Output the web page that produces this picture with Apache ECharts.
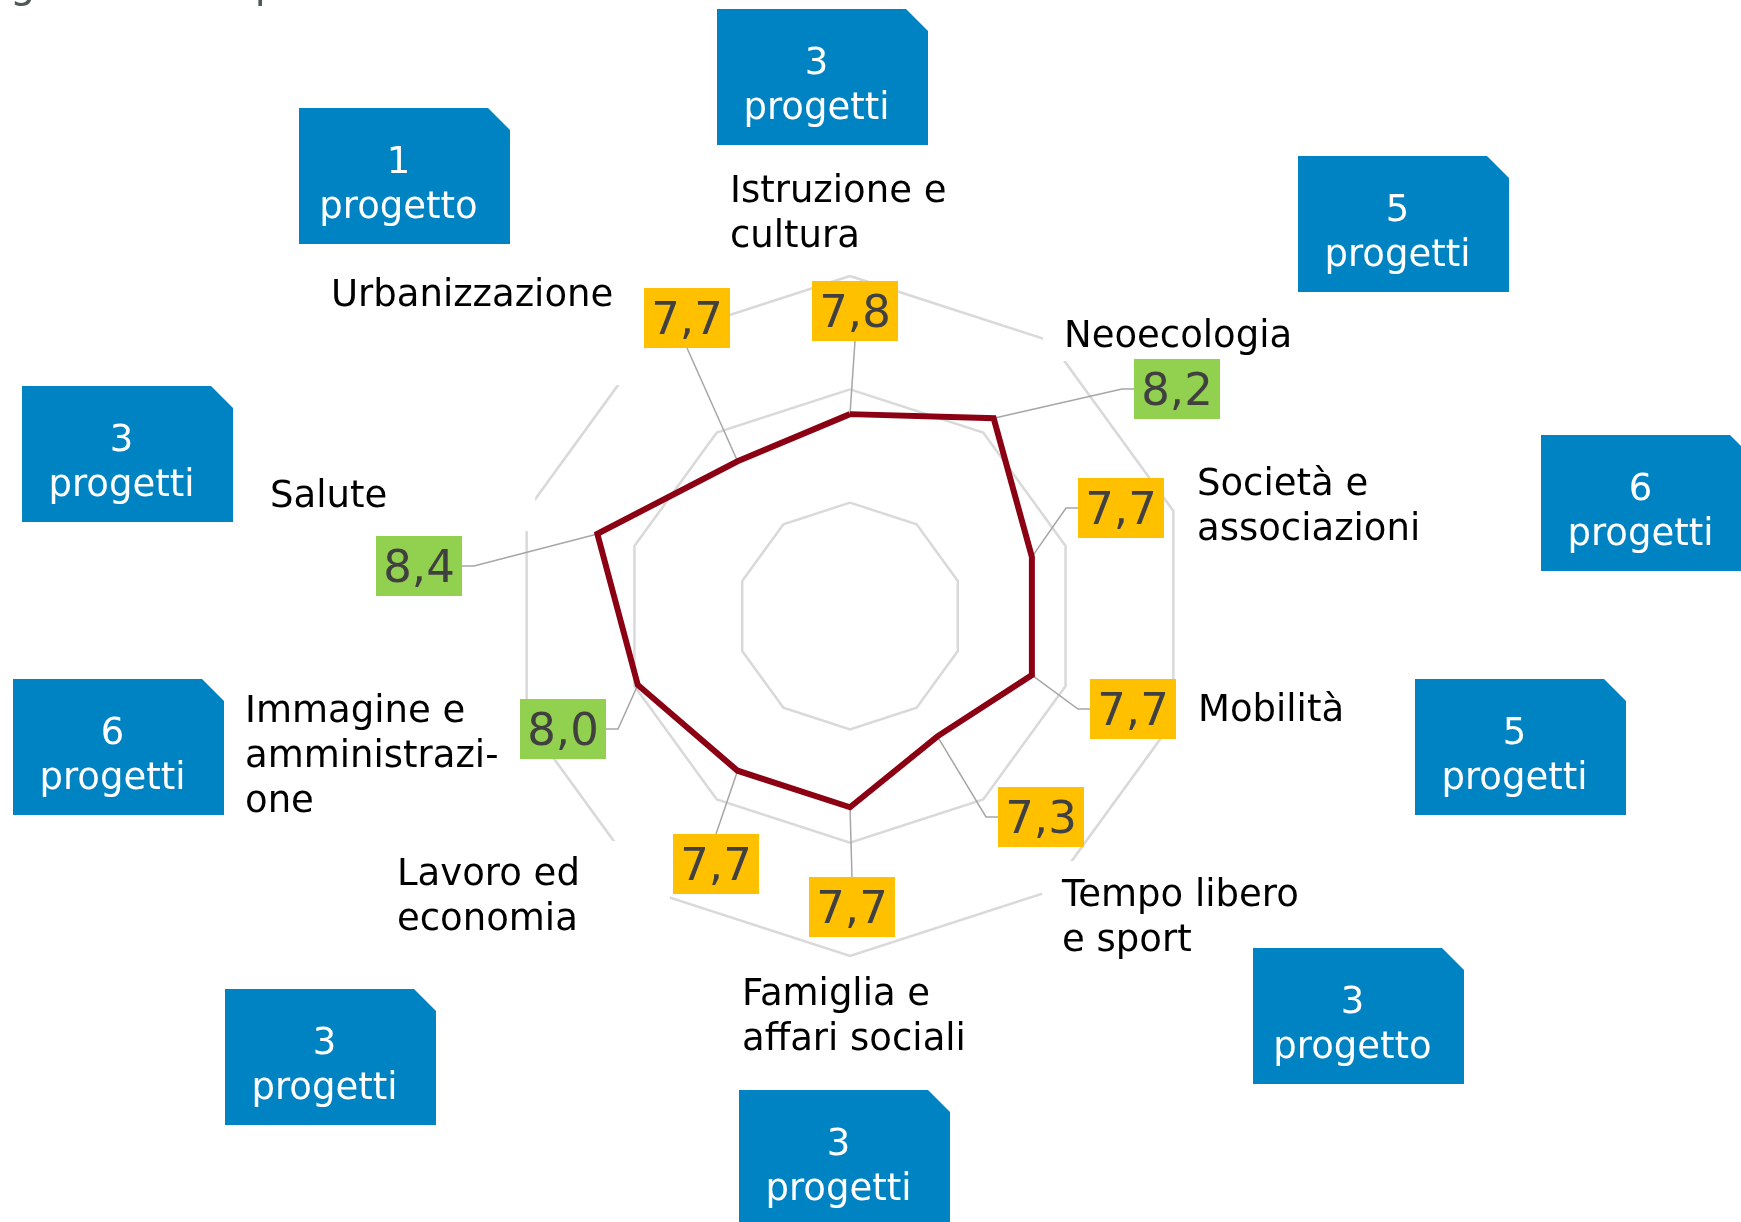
<!DOCTYPE html>
<html><head><meta charset="utf-8">
<script src="https://cdn.jsdelivr.net/npm/echarts@6/dist/echarts.min.js"></script>
<style>html,body{margin:0;padding:0;background:#fff}#c{width:1741px;height:1222px}</style>
</head><body><div id="c"></div>
<script>
// ---------- DATA (indicator order = ECharts radar order: counter-clockwise from the top) ----------
const categories = ['Istruzione e\ncultura', 'Urbanizzazione', 'Salute', 'Immagine e\namministrazi-\none',
  'Lavoro ed\neconomia', 'Famiglia e\naffari sociali', 'Tempo libero\ne sport', 'Mobilità',
  'Società e\nassociazioni', 'Neoecologia'];
const values = [7.8, 7.7, 8.4, 8.0, 7.7, 7.7, 7.3, 7.7, 7.7, 8.2];
const projectCounts = ['3', '1', '3', '6', '3', '3', '3', '5', '6', '5'];
const projectWords = ['progetti', 'progetto', 'progetti', 'progetti', 'progetti', 'progetti', 'progetto', 'progetti', 'progetti', 'progetti'];
const scaleMin = 5.9, scaleMax = 9.1;
const titleText = 'gradimento per ambito tematico';

// ---------- LAYOUT / STYLE ----------
const CX = 850, CY = 616, R = 340;
const FONT = '"DejaVu Sans", Verdana, sans-serif';
const catPos = [[730,170],[331,274],[270,475],[245,690],[397,853],[742,973],[1062,874],[1198,689],[1197,463],[1064,315]];
const catPad = [[0,0,0,0],[10,32,66,10],[4,148,11,4],[0,0,0,0],[12,90,4,4],[0,0,0,0],[13,4,4,20],[0,0,0,0],[0,0,0,0],[4,4,1,21]];
const valBox = [[855,311],[687,318],[419,566],[563,729],[716,864],[852,907],[1041,817],[1133,709],[1121,508],[1177,389]];
const valLink = ['bottom','bottom','right','right','top','top','left','left','left','left'];
const projBox = [[717,9],[299,108],[22,386],[13,679],[225,989],[739,1090],[1253,948],[1415,679],[1541,435],[1298,156]];
const VW = 86, VH = 60, PW = 211, PH = 136, CUT = 22, ELBOW = 12;

const chart = echarts.init(document.getElementById('c'), null, {renderer: 'canvas'});
chart.setOption({
  animation: false,
  backgroundColor: '#ffffff',
  radar: {
    center: [CX, CY], radius: R, startAngle: 90, shape: 'polygon', splitNumber: 3,
    indicator: categories.map(n => ({name: n, min: scaleMin, max: scaleMax})),
    axisName: {show: false},
    axisLine: {show: false}, axisTick: {show: false}, axisLabel: {show: false},
    splitLine: {lineStyle: {color: '#d9d9d9', width: 2.5}},
    splitArea: {show: false}
  },
  series: [{
    type: 'radar', z: 2, symbol: 'none', silent: true,
    lineStyle: {color: '#8b0012', width: 6, join: 'miter', miterLimit: 10},
    data: [{value: values, name: 'Valutazione'}]
  }]
});

function vertex(i) {
  try {
    const cs = chart.getModel().getComponent('radar', 0).coordinateSystem;
    const p = cs.dataToPoint(values[i], i);
    if (p && isFinite(p[0]) && isFinite(p[1])) return p;
  } catch (e) {}
  const a = Math.PI / 2 + i * 2 * Math.PI / values.length;
  const r = (values[i] - scaleMin) / (scaleMax - scaleMin) * R;
  return [CX + r * Math.cos(a), CY - r * Math.sin(a)];
}

const g = [];
g.push({type: 'text', z: 1, silent: true, style: {text: titleText, x: 10, y: -13, font: '40px ' + FONT, fill: '#505a55', align: 'left', verticalAlign: 'middle'}});

categories.forEach((name, i) => {
  const p = catPad[i];
  g.push({type: 'text', z: 1, silent: true, style: {
    text: name, x: catPos[i][0] - p[3], y: catPos[i][1] - p[0],
    font: '37px ' + FONT, lineHeight: 45, fill: '#000000', align: 'left', verticalAlign: 'top',
    backgroundColor: '#ffffff', padding: p
  }});

  const v = vertex(i);
  const c = valBox[i];
  const bx = c[0] - VW / 2, by = c[1] - VH / 2;
  let pts;
  if (valLink[i] === 'bottom') pts = [v, [c[0], by + VH]];
  else if (valLink[i] === 'top') pts = [v, [c[0], by]];
  else if (valLink[i] === 'left') pts = [v, [bx - ELBOW, c[1]], [bx, c[1]]];
  else pts = [v, [bx + VW + ELBOW, c[1]], [bx + VW, c[1]]];
  g.push({type: 'polyline', z: 1, silent: true, shape: {points: pts}, style: {stroke: '#a6a6a6', lineWidth: 1.5, fill: null}});
  g.push({type: 'rect', z: 10, silent: true, shape: {x: bx, y: by, width: VW, height: VH}, style: {fill: values[i] >= 8 ? '#92d050' : '#ffc000'}});
  g.push({type: 'text', z: 11, silent: true, style: {
    text: values[i].toFixed(1).replace('.', ','), x: c[0], y: c[1] + 4,
    font: '45px ' + FONT, fill: '#404040', align: 'center', verticalAlign: 'middle'
  }});

  const q = projBox[i];
  g.push({type: 'polygon', z: 10, silent: true, shape: {points: [
    [q[0], q[1]], [q[0] + PW - CUT, q[1]], [q[0] + PW, q[1] + CUT], [q[0] + PW, q[1] + PH], [q[0], q[1] + PH]
  ]}, style: {fill: '#0083c3'}});
  g.push({type: 'text', z: 11, silent: true, style: {
    text: projectCounts[i] + '\n' + projectWords[i], x: q[0] + PW / 2 - 6, y: q[1] + PH / 2 + 10,
    font: '37px ' + FONT, lineHeight: 45, fill: '#ffffff', align: 'center', verticalAlign: 'middle'
  }});
});

chart.setOption({graphic: g});
</script>
</body></html>
